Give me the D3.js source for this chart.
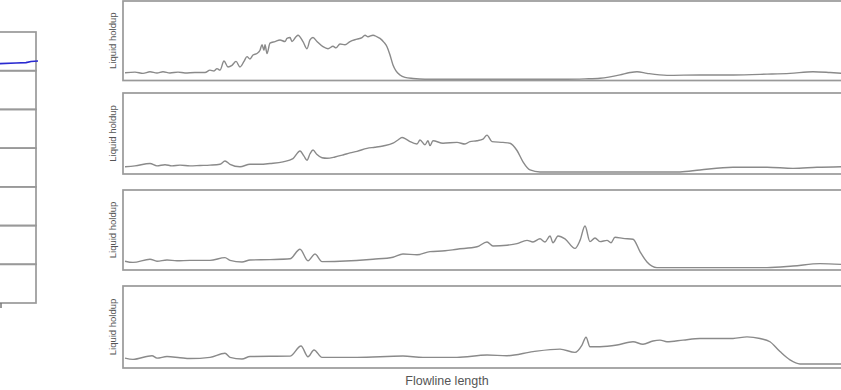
<!DOCTYPE html>
<html>
<head>
<meta charset="utf-8">
<script src="https://cdn.jsdelivr.net/npm/d3@7/dist/d3.min.js"></script>
<style>
  html, body { margin: 0; padding: 0; background: #fff; }
  svg { display: block; }
</style>
</head>
<body>
<svg id="chart" width="841" height="390"></svg>
<script>
// ---- Data (flowline distance in m, liquid holdup fraction) ----
const yLabel = "Liquid holdup";
const xLabel = "Flowline length";

const distance1 = [20,120,200,270,340,400,470,550,620,720,820,870,910,940,970,1010,1050,1090,1130,1170,1210,1240,1270,1300,1340,1370,1390,1410,1420,1440,1470,1520,1570,1620,1640,1670,1690,1730,1750,1800,1840,1870,1900,1940,2000,2050,2100,2130,2170,2220,2270,2340,2390,2420,2450,2500,2540,2570,2610,2640,2670,2700,2730,2770,2820,2900,3020,3770,4440,4620,4770,4970,5070,5140,5240,5440,5770,6100,6440,6670,6900,7070,7190];
const holdup1 = [0.098,0.105,0.09,0.11,0.095,0.11,0.095,0.105,0.095,0.10,0.10,0.13,0.12,0.15,0.13,0.245,0.17,0.19,0.24,0.17,0.24,0.30,0.27,0.32,0.34,0.38,0.45,0.38,0.45,0.34,0.47,0.49,0.51,0.49,0.53,0.54,0.49,0.55,0.57,0.49,0.40,0.51,0.54,0.49,0.425,0.40,0.43,0.41,0.46,0.45,0.49,0.52,0.54,0.57,0.55,0.57,0.55,0.53,0.48,0.425,0.32,0.195,0.12,0.07,0.04,0.025,0.015,0.015,0.015,0.02,0.028,0.07,0.10,0.11,0.09,0.065,0.07,0.07,0.08,0.09,0.11,0.10,0.09];

const distance2 = [20,120,270,340,420,490,570,670,770,870,970,1020,1070,1170,1270,1370,1470,1600,1700,1770,1810,1840,1870,1900,1940,1990,2040,2120,2200,2270,2340,2440,2520,2600,2700,2750,2790,2830,2870,2940,2970,3020,3050,3070,3100,3200,3340,3420,3470,3540,3600,3640,3690,3800,3870,3940,4000,4070,4170,4770,5570,5770,6100,6440,6700,6940,7190];
const holdup2 = [0.09,0.10,0.13,0.10,0.115,0.10,0.11,0.10,0.105,0.11,0.12,0.16,0.12,0.09,0.12,0.12,0.13,0.15,0.19,0.284,0.22,0.17,0.25,0.296,0.24,0.20,0.194,0.21,0.235,0.26,0.28,0.317,0.33,0.346,0.38,0.42,0.45,0.43,0.40,0.37,0.42,0.36,0.41,0.35,0.41,0.38,0.39,0.37,0.40,0.41,0.43,0.48,0.40,0.39,0.38,0.29,0.15,0.05,0.025,0.025,0.025,0.05,0.083,0.083,0.07,0.083,0.09];

const distance3 = [20,100,270,340,440,540,670,870,1020,1070,1190,1270,1470,1670,1770,1850,1920,1990,2170,2500,2700,2800,2940,3070,3220,3340,3540,3640,3700,3840,3940,4040,4100,4170,4220,4270,4300,4350,4420,4520,4570,4620,4670,4720,4770,4840,4880,4920,5000,5100,5170,5240,5340,5770,6440,6700,6970,7190];
const holdup3 = [0.11,0.095,0.135,0.11,0.125,0.115,0.12,0.12,0.155,0.12,0.10,0.125,0.13,0.14,0.26,0.115,0.20,0.105,0.11,0.135,0.16,0.20,0.19,0.23,0.24,0.26,0.29,0.35,0.30,0.31,0.33,0.37,0.35,0.39,0.35,0.425,0.34,0.425,0.39,0.27,0.37,0.55,0.355,0.40,0.355,0.37,0.34,0.41,0.395,0.385,0.23,0.10,0.03,0.03,0.03,0.05,0.08,0.07];

const distance4 = [20,100,290,340,440,570,670,870,1020,1070,1190,1270,1670,1780,1850,1910,1990,2340,2800,3000,3340,3640,3840,4100,4370,4520,4590,4630,4670,4770,4940,5100,5200,5300,5370,5440,5600,5770,6100,6240,6370,6470,6570,6670,6770,7190];
const holdup4 = [0.12,0.105,0.15,0.12,0.14,0.125,0.115,0.13,0.18,0.13,0.11,0.14,0.145,0.268,0.137,0.22,0.13,0.13,0.146,0.13,0.13,0.158,0.15,0.20,0.23,0.19,0.28,0.375,0.26,0.26,0.28,0.32,0.29,0.33,0.34,0.32,0.34,0.36,0.36,0.38,0.36,0.32,0.20,0.098,0.049,0.049];

// partially visible side panel (7 stacked rows, blue trace in first row)
const sideRows = [0,1,2,3,4,5,6];
const sideTime = [-40,-20,-10,-5,2];
const sideValue = [0.18,0.20,0.21,0.24,0.25];

const series = [
  {x: distance1, y: holdup1},
  {x: distance2, y: holdup2},
  {x: distance3, y: holdup3},
  {x: distance4, y: holdup4}
];

// ---- Layout ----
const svg = d3.select("#chart");
const panelLeft = 123, panelRight = 842;
const panels = [
  {top: 1, bottom: 80.5},
  {top: 93, bottom: 174},
  {top: 190, bottom: 270},
  {top: 286, bottom: 368}
];
const lineColor = "#8a8a8a";
const frameColor = "#999";

const x = d3.scaleLinear().domain([0, 7190]).range([panelLeft, panelRight]);

series.forEach((s, i) => {
  const p = panels[i];
  const y = d3.scaleLinear().domain([0, 1]).range([p.bottom, p.top]);
  const g = svg.append("g");
  const pts = s.x.map((d, j) => [d, s.y[j]]);
  g.append("path")
    .datum(pts)
    .attr("fill", "none")
    .attr("stroke", lineColor)
    .attr("stroke-width", 1.4)
    .attr("stroke-linejoin", "round")
    .attr("d", d3.line().curve(d3.curveMonotoneX).x(d => x(d[0])).y(d => y(d[1])));
  g.append("rect")
    .attr("x", panelLeft).attr("y", p.top)
    .attr("width", panelRight - panelLeft).attr("height", p.bottom - p.top)
    .attr("fill", "none").attr("stroke", frameColor).attr("stroke-width", 1.7);
  g.append("text")
    .attr("transform", `translate(116,${(p.top + p.bottom) / 2}) rotate(-90)`)
    .attr("text-anchor", "middle")
    .attr("font-family", "Liberation Sans, Arial, sans-serif")
    .attr("font-size", 9.5)
    .attr("fill", "#555")
    .text(yLabel);
});

svg.append("text")
  .attr("x", 447).attr("y", 385)
  .attr("text-anchor", "middle")
  .attr("font-family", "Liberation Sans, Arial, sans-serif")
  .attr("font-size", 12.5)
  .attr("fill", "#555")
  .text(xLabel);

// ---- Side panel ----
const sideTop = 32, sideBottom = 303, sideRight = 36;
const xs = d3.scaleLinear().domain([-200, 0]).range([sideRight - 200, sideRight]);
const rowH = (sideBottom - sideTop) / sideRows.length;
const gs = svg.append("g");
sideRows.forEach(r => {
  gs.append("rect")
    .attr("x", -10).attr("y", sideTop + r * rowH)
    .attr("width", sideRight + 10).attr("height", rowH)
    .attr("fill", "none").attr("stroke", frameColor).attr("stroke-width", 1.7);
});
const ys = d3.scaleLinear().domain([0, 1]).range([sideTop + rowH, sideTop]);
gs.append("path")
  .datum(sideTime.map((t, j) => [t, sideValue[j]]))
  .attr("fill", "none").attr("stroke", "#2a2ad0").attr("stroke-width", 1.6)
  .attr("d", d3.line().x(d => xs(d[0])).y(d => ys(d[1])));
gs.append("line")
  .attr("x1", 1).attr("x2", 1).attr("y1", sideBottom).attr("y2", sideBottom + 5)
  .attr("stroke", "#777").attr("stroke-width", 1.5);
</script>
</body>
</html>
